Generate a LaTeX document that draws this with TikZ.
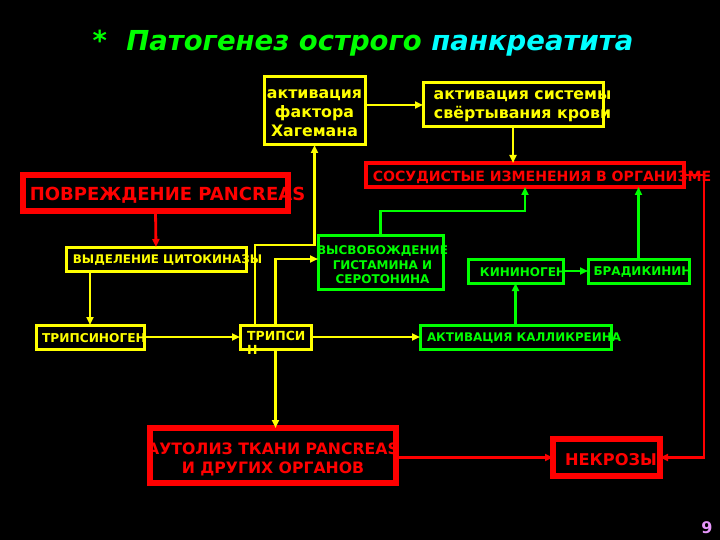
\documentclass[tikz,border=0pt]{standalone}
\usepackage{fontspec}
\setmainfont{DejaVu Sans}
\usetikzlibrary{arrows.meta}
\definecolor{ylw}{RGB}{255,255,0}
\definecolor{grn}{RGB}{0,255,0}
\definecolor{rd}{RGB}{255,0,0}
\definecolor{cyn}{RGB}{0,255,255}
\definecolor{pnk}{RGB}{230,150,250}
\begin{document}
\begin{tikzpicture}[x=1pt,y=-1pt,
  box/.style={inner sep=0pt, outer sep=0pt},
  ybox/.style={box, draw=ylw, line width=3pt},
  gbox/.style={box, draw=grn, line width=3pt},
  rbox/.style={box, draw=rd, line width=5.5pt},
  txt/.style={inner sep=0pt, align=center, font=\bfseries},
  ytxt/.style={txt, text=ylw},
  gtxt/.style={txt, text=grn},
  rtxt/.style={txt, text=rd},
  tip/.style={-{Triangle[length=8pt,width=7pt]}},
  ycon/.style={draw=ylw, line width=2.8pt, tip},
  gcon/.style={draw=grn, line width=2.8pt, tip},
  rcon/.style={draw=rd, line width=2.8pt, tip}]
\fill[black] (0,0) rectangle (720,540);
\useasboundingbox (0,0) rectangle (720,540);

% title
\node[inner sep=0pt, font=\fontsize{27.5}{32}\selectfont\bfseries\itshape] (title) at (363,43)
  {\textcolor{grn}{*\ \ Патогенез острого} \textcolor{cyn}{панкреатита}};

% boxes
\node[ybox, minimum width=101, minimum height=68] (hag) at (314.5,111) {};
\node[ybox, minimum width=180, minimum height=44] (sist) at (513,105) {};
\node[rbox, line width=4pt, minimum width=318, minimum height=24] (sosud) at (525,175) {};
\node[rbox, minimum width=265, minimum height=36] (povr) at (155.5,193) {};
\node[ybox, minimum width=180, minimum height=24] (vyd) at (156,259) {};
\node[ybox, minimum width=108, minimum height=24] (tsg) at (90,337) {};
\node[ybox, minimum width=71, minimum height=24] (trip) at (275.5,337) {};
\node[gbox, minimum width=125, minimum height=54] (vysv) at (380.5,262) {};
\node[gbox, minimum width=95, minimum height=24] (kin) at (515.5,271) {};
\node[gbox, minimum width=101, minimum height=24] (brad) at (638.5,271) {};
\node[gbox, minimum width=191, minimum height=24] (kal) at (515.5,337) {};
\node[rbox, minimum width=246, minimum height=55] (auto) at (273,455.5) {};
\node[rbox, minimum width=107, minimum height=37] (nekr) at (606.5,457.5) {};

% connectors
\coordinate (j1) at (255,245);
\coordinate (j2) at (380.5,211);
\coordinate (j3) at (704,175);
\draw[ycon] (hag.east |- sist.west) -- (sist.west);
\draw[ycon] (sist.south) -- (sist.south |- sosud.north);
\draw[rcon] (povr.south) -- (vyd.north);
\draw[ycon] (vyd.south -| tsg.north) -- (tsg.north);
\draw[ycon] (tsg.east) -- (trip.west);
\draw[ycon] (j1 |- trip.north) -- (j1) -| (hag.south);
\draw[ycon] (trip.north) |- ([yshift=3]vysv.west);
\draw[ycon] (trip.east) -- (kal.west);
\draw[ycon] (trip.south) -- (trip.south |- auto.north);
\draw[gcon] (vysv.north) -- (j2) -| (sosud.south);
\draw[gcon] (kal.north) -- (kin.south);
\draw[gcon] (kin.east) -- (brad.west);
\draw[gcon] (brad.north) -- (brad.north |- sosud.south);
\draw[rcon] (sosud.east) -- (j3) |- (nekr.east);
\draw[rcon] (auto.east |- nekr.west) -- (nekr.west);

% texts
\node[ytxt, font=\fontsize{15.8}{19}\selectfont\bfseries] (hagT) at (314.5,113) {активация\\фактора\\Хагемана};
\node[ytxt, font=\fontsize{15.8}{19}\selectfont\bfseries] (sistT) at (522.5,106.5) {активация системы\\свёртывания крови};
\node[rtxt, font=\fontsize{14.1}{16}\selectfont\bfseries] (sosudT) at (542,177) {СОСУДИСТЫЕ ИЗМЕНЕНИЯ В ОРГАНИЗМЕ};
\node[rtxt, font=\fontsize{18}{20}\selectfont\bfseries] (povrT) at (167.5,195) {ПОВРЕЖДЕНИЕ PANCREAS};
\node[ytxt, font=\fontsize{11.9}{15}\selectfont\bfseries] (vydT) at (167.5,260.5) {ВЫДЕЛЕНИЕ ЦИТОКИНАЗЫ};
\node[ytxt, font=\fontsize{12.2}{15}\selectfont\bfseries] (tsgT) at (94,338.5) {ТРИПСИНОГЕН};
\node[ytxt, align=left, anchor=north west, font=\fontsize{12.5}{14}\selectfont\bfseries] (tripT) at (247,331) {ТРИПСИ\\Н};
\node[gtxt, font=\fontsize{12}{14.5}\selectfont\bfseries] (vysvT) at (382.5,265) {ВЫСВОБОЖДЕНИЕ\\ГИСТАМИНА И\\СЕРОТОНИНА};
\node[gtxt, font=\fontsize{12}{15}\selectfont\bfseries] (kinT) at (523,272.5) {КИНИНОГЕН};
\node[gtxt, font=\fontsize{12}{15}\selectfont\bfseries] (bradT) at (642.5,272.5) {БРАДИКИНИН};
\node[gtxt, font=\fontsize{11.9}{15}\selectfont\bfseries] (kalT) at (524,338.5) {АКТИВАЦИЯ КАЛЛИКРЕИНА};
\node[rtxt, font=\fontsize{15.7}{19}\selectfont\bfseries] (autoT) at (273,459.5) {АУТОЛИЗ ТКАНИ PANCREAS\\И ДРУГИХ ОРГАНОВ};
\node[rtxt, font=\fontsize{16.2}{19}\selectfont\bfseries] (nekrT) at (611,460) {НЕКРОЗЫ};
\node[txt, text=pnk, font=\fontsize{16}{19}\selectfont\bfseries] (page) at (707,528) {9};
\end{tikzpicture}
\end{document}
